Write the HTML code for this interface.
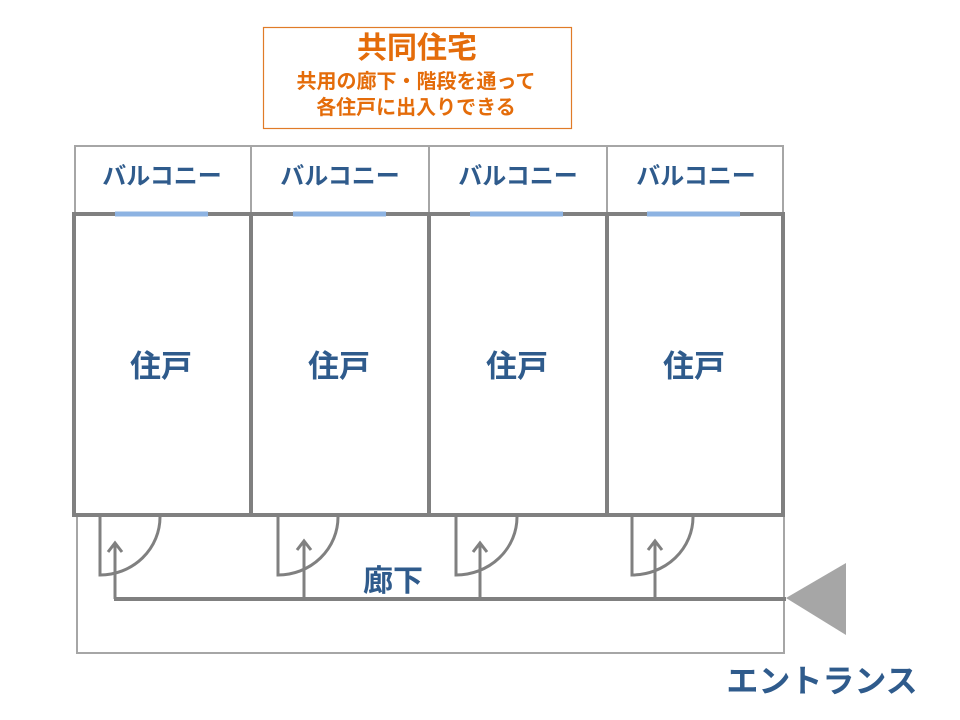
<!DOCTYPE html>
<html><head><meta charset="utf-8"><style>
html,body{margin:0;padding:0;background:#fff;}
svg{display:block}
text{font-family:"Liberation Sans","Noto Sans CJK JP",sans-serif;font-weight:bold;}
</style></head><body>
<svg width="960" height="720" viewBox="0 0 960 720" xmlns="http://www.w3.org/2000/svg">
<rect x="263.5" y="27.5" width="308" height="101" fill="#fff" stroke="#e07b28" stroke-width="1.2"/>
<text x="417" y="58" font-size="30" fill="#e46c0a" text-anchor="middle">共同住宅</text>
<text x="416" y="88" font-size="20" fill="#e46c0a" text-anchor="middle">共用の廊下・階段を通って</text>
<text x="416" y="114" font-size="20" fill="#e46c0a" text-anchor="middle">各住戸に出入りできる</text>

<rect x="75" y="146" width="708" height="67" fill="#fff" stroke="#a6a6a6" stroke-width="2"/>
<line x1="251" y1="146" x2="251" y2="213" stroke="#a6a6a6" stroke-width="2"/>
<line x1="429" y1="146" x2="429" y2="213" stroke="#a6a6a6" stroke-width="2"/>
<line x1="607" y1="146" x2="607" y2="213" stroke="#a6a6a6" stroke-width="2"/>
<g font-size="24" fill="#2f5b8c" text-anchor="middle">
<text x="162" y="184">バルコニー</text>
<text x="340" y="184">バルコニー</text>
<text x="518" y="184">バルコニー</text>
<text x="696" y="184">バルコニー</text>
</g>

<rect x="77" y="516" width="707" height="137" fill="#fff" stroke="#a6a6a6" stroke-width="2"/>

<g stroke="#808080" stroke-width="4" fill="none">
<rect x="74" y="214" width="709" height="301"/>
<line x1="251" y1="214" x2="251" y2="515"/>
<line x1="429" y1="214" x2="429" y2="515"/>
<line x1="607" y1="214" x2="607" y2="515"/>
</g>
<g stroke="#8db3e2" stroke-width="5">
<line x1="115" y1="214" x2="208" y2="214"/>
<line x1="293" y1="214" x2="386" y2="214"/>
<line x1="470" y1="214" x2="563" y2="214"/>
<line x1="647" y1="214" x2="740" y2="214"/>
</g>
<g font-size="31" fill="#2f5b8c" text-anchor="middle">
<text x="161" y="377">住戸</text>
<text x="339" y="377">住戸</text>
<text x="517" y="377">住戸</text>
<text x="694" y="377">住戸</text>
</g>

<g stroke="#808080" stroke-width="3" fill="none">
<path d="M100 517 V575 A60 58 0 0 0 160 517"/>
<path d="M278 517 V575 A60 58 0 0 0 338 517"/>
<path d="M456 517 V575 A61 58 0 0 0 517 517"/>
<path d="M632 517 V575 A61 58 0 0 0 693 517"/>
<path d="M115 599 V543 M108 552 L115 543 L122 552"/>
<path d="M304 599 V541 M297 550 L304 541 L311 550"/>
<path d="M480 599 V543 M473 552 L480 543 L487 552"/>
<path d="M655 599 V541 M648 550 L655 541 L662 550"/>
<line x1="114" y1="599" x2="786" y2="599" stroke-width="4"/>
</g>
<text x="393" y="591" font-size="30" fill="#2f5b8c" text-anchor="middle">廊下</text>

<polygon points="786,598 846,563 846,635" fill="#a6a6a6"/>
<text x="822" y="692" font-size="32" fill="#2f5b8c" text-anchor="middle">エントランス</text>
</svg>
</body></html>
